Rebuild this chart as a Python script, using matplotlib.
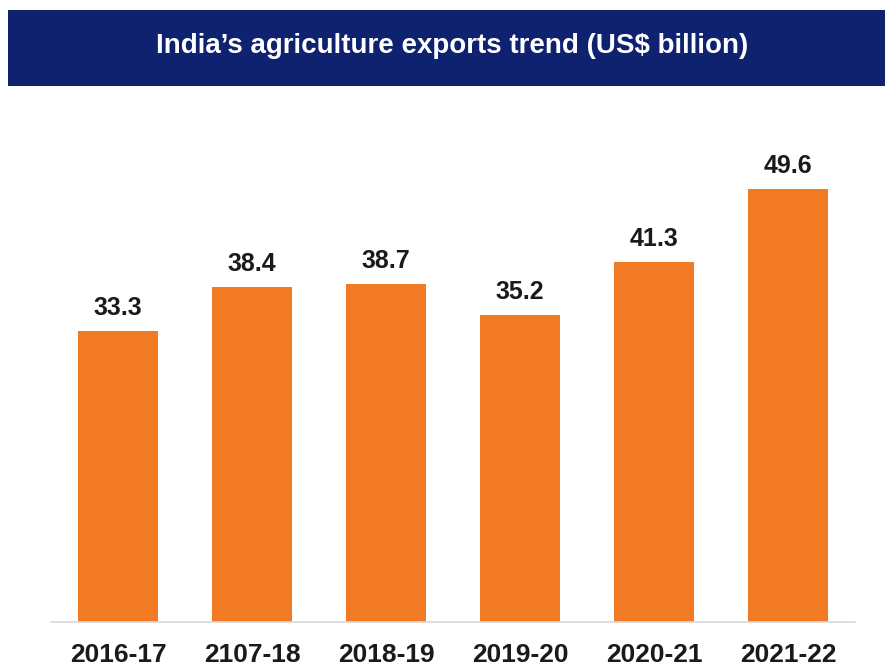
import matplotlib.pyplot as plt
from matplotlib.patches import Rectangle

# data
years = ["2016-17", "2107-18", "2018-19", "2019-20", "2020-21", "2021-22"]
exports = [33.3, 38.4, 38.7, 35.2, 41.3, 49.6]

BAR_COLOR = "#F27A25"
BANNER_COLOR = "#0E2270"
NARROW = ["Liberation Sans Narrow", "Liberation Sans", "DejaVu Sans"]

W, H = 885, 671
fig = plt.figure(figsize=(W / 100, H / 100), dpi=100)

# title banner
fig.patches.append(Rectangle((8 / W, (H - 86) / H), 1 - 8 / W, 76 / H,
                             transform=fig.transFigure, facecolor=BANNER_COLOR,
                             edgecolor="none", zorder=0))
fig.text(452 / W, (H - 53) / H, "India\u2019s agriculture exports trend (US$ billion)",
         color="white", fontsize=20, fontweight="bold", ha="center", va="baseline",
         family=["Liberation Sans", "DejaVu Sans"])

ax = fig.add_axes([51 / W, (H - 622) / H, 804 / W, 480 / H])
x = range(len(years))
bars = ax.bar(x, exports, width=0.6, color=BAR_COLOR, zorder=2)

for b, v in zip(bars, exports):
    ax.annotate(f"{v:.1f}", (b.get_x() + b.get_width() / 2, v),
                xytext=(0, 11.5), textcoords="offset points",
                ha="center", va="baseline", fontsize=18, fontweight="bold",
                color="#1a1a1a", family=NARROW)

ax.set_xlim(-0.5, len(years) - 0.5)
ax.set_ylim(0, 55)
ax.set_xticks(list(x))
ax.set_xticklabels(years, fontsize=19, fontweight="bold", color="#1a1a1a", family=NARROW)
ax.tick_params(axis="x", length=0, pad=15)
ax.set_yticks([])
for s in ("top", "left", "right"):
    ax.spines[s].set_visible(False)
ax.spines["bottom"].set_color("#D9D9D9")
ax.spines["bottom"].set_linewidth(1.2)

fig.savefig("out.png", dpi=100)
